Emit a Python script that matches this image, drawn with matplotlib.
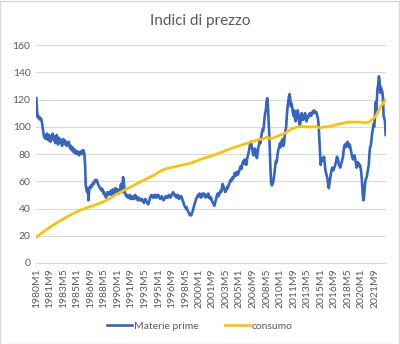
import matplotlib.pyplot as plt
from matplotlib.patches import Rectangle

plt.rcParams['font.family'] = ['Lato', 'DejaVu Sans']

# Indici mensili, 1980M1 -> 2023M1 (una riga per anno)
materie_prime = [
    121, 112, 107, 108, 106, 107, 105, 106, 104, 101, 97, 94,
    92, 94, 91, 93, 95, 92, 90, 94, 92, 89, 93, 91,
    95, 92, 90, 93, 88, 91, 94, 90, 87, 92, 89, 91,
    88, 90, 86, 89, 91, 88, 90, 87, 89, 86, 88, 87,
    89, 86, 84, 86, 83, 85, 82, 84, 81, 83, 82, 80,
    81, 82, 80, 79, 81, 80, 82, 80, 81, 83, 82, 80,
    72, 57, 54, 52, 55, 46, 54, 56, 55, 57, 56, 58,
    59, 58, 60, 61, 60, 61, 60, 58, 57, 56, 55, 54,
    55, 53, 54, 51, 52, 50, 49, 48, 50, 52, 51, 50,
    52, 51, 53, 50, 52, 54, 51, 53, 52, 55, 53, 52,
    54, 52, 51, 53, 55, 58, 56, 52, 63, 61, 55, 51,
    50, 49, 50, 48, 49, 48, 50, 47, 48, 47, 49, 48,
    47, 48, 50, 49, 47, 48, 46, 48, 47, 46, 47, 46,
    47, 46, 45, 44, 46, 47, 46, 45, 44, 43, 44, 46,
    48, 49, 50, 49, 48, 49, 50, 48, 49, 50, 48, 49,
    50, 49, 48, 47, 48, 49, 48, 47, 46, 47, 48, 49,
    48, 49, 48, 49, 50, 49, 48, 49, 50, 51, 52, 51,
    50, 49, 50, 48, 49, 50, 48, 47, 49, 48, 49, 48,
    46, 45, 43, 42, 41, 40, 41, 39, 38, 37, 36, 35,
    36, 35, 37, 38, 40, 42, 44, 45, 47, 48, 49, 50,
    49, 51, 50, 48, 50, 51, 49, 50, 51, 50, 48, 49,
    50, 49, 51, 48, 49, 47, 48, 46, 45, 44, 43, 42,
    44, 46, 48, 50, 51, 49, 50, 52, 53, 52, 54, 58,
    57, 55, 54, 52, 53, 54, 56, 55, 57, 58, 60, 61,
    60, 62, 63, 62, 64, 66, 65, 64, 67, 66, 65, 67,
    68, 70, 71, 69, 72, 74, 75, 73, 76, 74, 72, 75,
    78, 80, 82, 85, 88, 89, 86, 84, 80, 79, 82, 84,
    80, 78, 77, 82, 85, 87, 90, 88, 92, 95, 98, 97,
    100, 106, 110, 112, 118, 121, 117, 105, 95, 80, 67, 58,
    57, 58, 60, 63, 67, 72, 75, 74, 78, 82, 84, 86,
    88, 85, 89, 90, 91, 86, 88, 94, 97, 100, 108, 114,
    118, 122, 124, 121, 115, 117, 114, 110, 108, 112, 106, 104,
    107, 110, 112, 109, 104, 100, 103, 108, 110, 107, 105, 106,
    108, 110, 107, 104, 106, 108, 107, 109, 110, 109, 108, 110,
    111, 110, 112, 111, 110, 111, 110, 108, 106, 101, 92, 82,
    72, 75, 77, 75, 76, 78, 73, 68, 66, 64, 62, 58,
    55, 58, 62, 65, 68, 70, 69, 68, 70, 71, 73, 75,
    78, 77, 75, 72, 71, 70, 72, 74, 76, 78, 83, 86,
    87, 85, 88, 87, 89, 86, 85, 87, 84, 82, 79, 77,
    76, 78, 79, 76, 74, 70, 72, 74, 73, 71, 72, 70,
    66, 60, 52, 46, 48, 55, 60, 62, 63, 66, 69, 72,
    80, 85, 86, 90, 95, 98, 102, 100, 106, 118, 112, 120,
    128, 131, 137, 134, 125, 129, 127, 126, 121, 108, 106, 104,
    94,
]

consumo = [
    19.0, 19.4, 19.8, 20.2, 20.5, 20.9, 21.2, 21.6, 22.0, 22.3, 22.7, 23.0,
    23.4, 23.8, 24.1, 24.5, 24.8, 25.2, 25.5, 25.8, 26.2, 26.5, 26.9, 27.2,
    27.5, 27.9, 28.2, 28.5, 28.8, 29.1, 29.4, 29.7, 30.0, 30.3, 30.6, 30.9,
    31.2, 31.5, 31.8, 32.1, 32.4, 32.7, 33.0, 33.3, 33.5, 33.8, 34.1, 34.3,
    34.6, 34.9, 35.1, 35.4, 35.7, 35.9, 36.2, 36.4, 36.7, 36.9, 37.2, 37.4,
    37.7, 37.9, 38.1, 38.4, 38.6, 38.8, 39.0, 39.2, 39.4, 39.6, 39.8, 40.0,
    40.2, 40.3, 40.4, 40.6, 40.8, 40.9, 41.1, 41.2, 41.4, 41.5, 41.7, 41.9,
    42.1, 42.3, 42.5, 42.7, 42.8, 43.0, 43.2, 43.4, 43.6, 43.8, 44.0, 44.2,
    44.4, 44.6, 44.8, 45.0, 45.2, 45.5, 45.7, 45.9, 46.2, 46.4, 46.7, 46.9,
    47.2, 47.5, 47.8, 48.1, 48.4, 48.7, 49.0, 49.3, 49.6, 49.9, 50.2, 50.5,
    50.8, 51.1, 51.4, 51.6, 51.9, 52.2, 52.4, 52.7, 53.0, 53.2, 53.5, 53.8,
    54.0, 54.3, 54.5, 54.8, 55.0, 55.3, 55.5, 55.8, 56.0, 56.3, 56.5, 56.8,
    57.0, 57.3, 57.5, 57.8, 58.0, 58.3, 58.5, 58.8, 59.0, 59.3, 59.5, 59.8,
    60.0, 60.3, 60.5, 60.8, 61.0, 61.3, 61.5, 61.8, 62.0, 62.3, 62.5, 62.8,
    63.0, 63.3, 63.5, 63.8, 64.0, 64.3, 64.6, 64.9, 65.2, 65.5, 65.8, 66.1,
    66.4, 66.7, 67.0, 67.3, 67.6, 67.9, 68.1, 68.3, 68.5, 68.7, 68.9, 69.0,
    69.2, 69.3, 69.4, 69.5, 69.7, 69.8, 69.9, 70.0, 70.1, 70.3, 70.4, 70.5,
    70.6, 70.7, 70.8, 70.9, 71.0, 71.2, 71.3, 71.4, 71.5, 71.6, 71.7, 71.8,
    71.9, 72.0, 72.1, 72.2, 72.4, 72.5, 72.6, 72.7, 72.8, 73.0, 73.1, 73.2,
    73.3, 73.5, 73.6, 73.8, 74.0, 74.2, 74.4, 74.6, 74.8, 75.0, 75.2, 75.4,
    75.6, 75.8, 76.0, 76.2, 76.3, 76.5, 76.7, 76.8, 77.0, 77.1, 77.3, 77.5,
    77.6, 77.8, 78.0, 78.1, 78.3, 78.4, 78.6, 78.7, 78.9, 79.0, 79.2, 79.3,
    79.5, 79.7, 79.9, 80.1, 80.3, 80.5, 80.6, 80.8, 81.0, 81.2, 81.4, 81.6,
    81.8, 82.0, 82.2, 82.4, 82.6, 82.8, 83.0, 83.2, 83.4, 83.6, 83.8, 84.0,
    84.2, 84.3, 84.5, 84.7, 84.8, 85.0, 85.2, 85.3, 85.5, 85.6, 85.8, 86.0,
    86.1, 86.3, 86.5, 86.6, 86.8, 86.9, 87.1, 87.3, 87.4, 87.6, 87.7, 87.9,
    88.0, 88.2, 88.4, 88.5, 88.7, 88.8, 89.0, 89.1, 89.3, 89.4, 89.6, 89.8,
    89.9, 90.0, 90.1, 90.3, 90.4, 90.5, 90.6, 90.7, 90.8, 90.9, 91.0, 91.1,
    91.3, 91.5, 91.8, 92.0, 92.3, 92.5, 92.3, 92.0, 91.6, 91.3, 91.0, 91.2,
    91.4, 91.6, 91.8, 92.0, 92.2, 92.4, 92.6, 92.8, 93.0, 93.2, 93.4, 93.6,
    93.8, 94.0, 94.2, 94.4, 94.6, 94.8, 95.0, 95.3, 95.6, 95.9, 96.2, 96.5,
    96.8, 97.1, 97.4, 97.7, 98.0, 98.3, 98.5, 98.7, 98.9, 99.1, 99.3, 99.5,
    99.6, 99.8, 100.0, 100.1, 100.2, 100.1, 100.0, 100.2, 100.3, 100.2, 100.1, 100.0,
    99.9, 100.1, 100.2, 100.0, 99.8, 99.9, 100.1, 100.0, 99.8, 99.7, 99.9, 100.1,
    100.2, 100.0, 99.8, 99.9, 100.1, 100.2, 100.0, 99.8, 99.6, 99.5, 99.4, 99.3,
    99.2, 99.4, 99.6, 99.8, 100.0, 100.1, 100.0, 99.9, 99.8, 99.9, 100.0, 100.1,
    100.0, 100.2, 100.4, 100.5, 100.6, 100.7, 100.9, 101.0, 101.1, 101.3, 101.4, 101.5,
    101.6, 101.8, 101.9, 102.0, 101.9, 102.1, 102.2, 102.4, 102.6, 102.5, 102.7, 102.9,
    103.0, 103.1, 103.3, 103.2, 103.4, 103.5, 103.6, 103.4, 103.3, 103.5, 103.4, 103.3,
    103.4, 103.5, 103.6, 103.5, 103.4, 103.3, 103.5, 103.4, 103.2, 103.3, 103.4, 103.5,
    103.4, 103.3, 103.2, 103.0, 102.9, 103.0, 103.1, 103.2, 103.0, 103.1, 103.3, 103.4,
    103.6, 104.0, 104.4, 104.8, 105.2, 105.6, 106.0, 106.5, 107.0, 107.8, 108.7, 109.5,
    110.4, 111.3, 112.4, 113.3, 114.2, 115.0, 115.6, 116.2, 117.0, 118.0, 118.6, 119.2,
    120.0,
]

n = len(materie_prime)
mesi = [f"{1980 + i // 12}M{i % 12 + 1}" for i in range(n)]
y_ticks = [0, 20, 40, 60, 80, 100, 120, 140, 160]

grigio = "#595959"

fig = plt.figure(figsize=(4, 3.44), dpi=100)
fig.patches.append(Rectangle((0.001, 0.001), 0.997, 0.996, transform=fig.transFigure,
                             fill=False, edgecolor="#d9d9d9", linewidth=1))
ax = fig.add_axes([0.09, 0.2355, 0.875, 0.6335])

ax.plot(range(n), materie_prime, color="#3565C0", linewidth=1.9, label="Materie prime")
ax.plot(range(n), consumo, color="#FFC000", linewidth=1.9, label="consumo")

ax.set_ylim(0, 160)
ax.set_xlim(-0.5, n - 0.5)
ax.set_yticks(y_ticks)
ax.set_yticklabels([str(v) for v in y_ticks], color=grigio, fontsize=7.5)
pos = list(range(0, n, 20))
ax.set_xticks(pos)
ax.set_xticklabels([mesi[i] for i in pos], rotation=90, color=grigio, fontsize=7.5)
ax.tick_params(length=0, pad=4)
ax.grid(axis="y", color="#d9d9d9", linewidth=0.8)
ax.set_axisbelow(True)
for s in ["top", "right", "left"]:
    ax.spines[s].set_visible(False)
ax.spines["bottom"].set_color("#d9d9d9")

fig.text(0.5, 0.94, "Indici di prezzo", ha="center", va="center", fontsize=11, color=grigio)
fig.legend(loc="center", bbox_to_anchor=(0.5, 0.052), ncol=2, frameon=False,
           fontsize=7.5, labelcolor=grigio, handlelength=2.4, columnspacing=2.5,
           handletextpad=0.2)

fig.savefig("out.png", dpi=100, facecolor="white")
